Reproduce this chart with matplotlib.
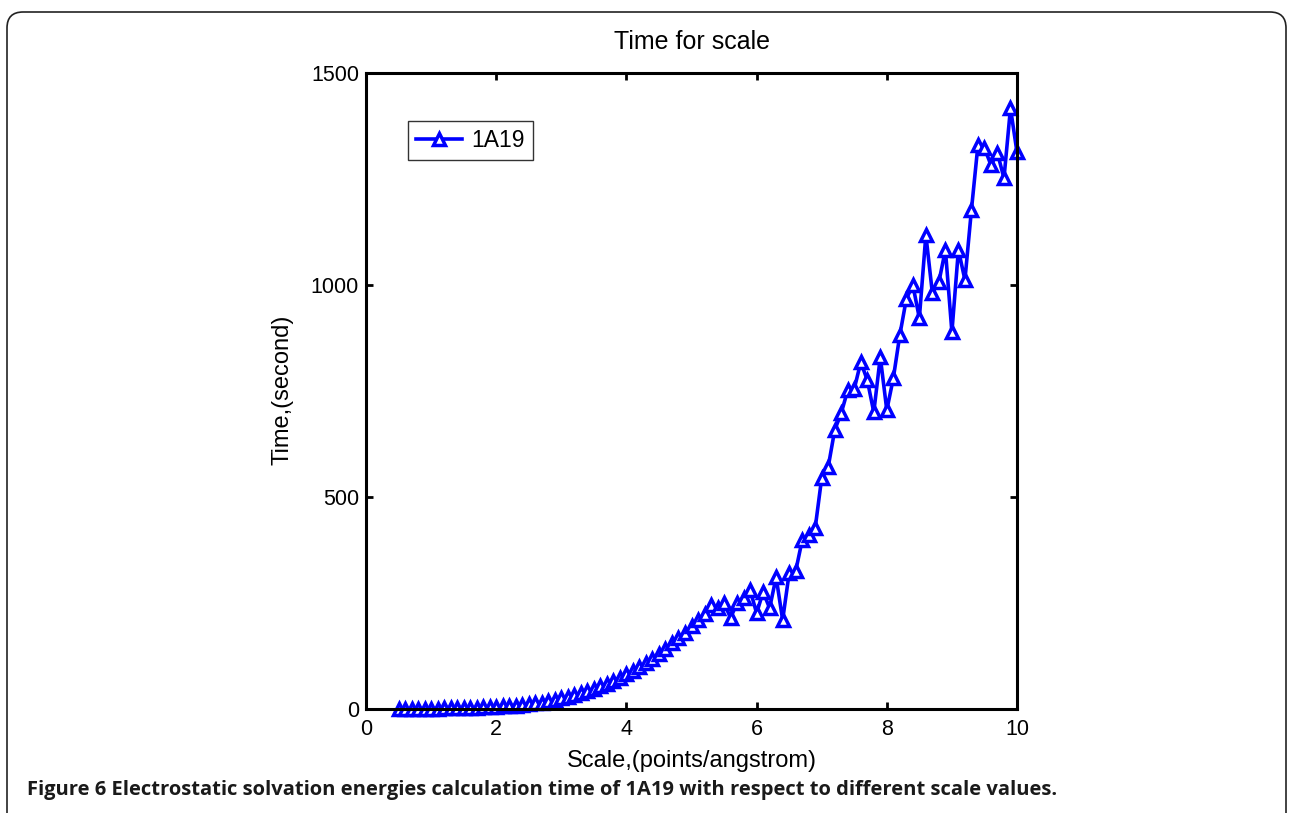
import numpy as np
import matplotlib
matplotlib.use("Agg")
import matplotlib.pyplot as plt
from matplotlib.patches import FancyBboxPatch
from matplotlib.transforms import IdentityTransform

# scale values (points/angstrom), 0.5 .. 10.0 step 0.1
scale = np.round(np.arange(5, 101) / 10.0, 1)

# calculation time (seconds)
time_sec = [
    1, 1, 1, 1, 1, 1, 1, 2, 2, 2,            # 0.5 - 1.4
    2, 3, 3, 4, 4, 5, 6, 7, 8, 9,            # 1.5 - 2.4
    11, 13, 15, 18, 21, 25, 28, 32, 37, 42,  # 2.5 - 3.4
    48, 54, 60, 67, 74, 82, 90, 98, 108, 118,  # 3.5 - 4.4
    130, 142, 155, 168, 180, 195, 210, 225, 245, 238,  # 4.5 - 5.4
    250, 215, 250, 262, 281, 226, 276, 238, 311, 210,  # 5.5 - 6.4
    320, 325, 398, 410, 427, 545, 571, 658, 698, 752,  # 6.5 - 7.4
    755, 818, 776, 700, 830, 705, 780, 882, 967, 1000,  # 7.5 - 8.4
    922, 1118, 981, 1007, 1083, 889, 1083, 1012, 1177, 1330,  # 8.5 - 9.4
    1323, 1283, 1311, 1252, 1417, 1313,  # 9.5 - 10.0
]

xticks = [0, 2, 4, 6, 8, 10]
yticks = [0, 500, 1000, 1500]

plt.rcParams['font.family'] = ['Liberation Sans', 'DejaVu Sans']

W, H = 1292, 813
fig = plt.figure(figsize=(W / 100, H / 100), dpi=100)
ax = fig.add_axes([366 / W, (H - 709) / H, 651 / W, 636 / H])

ax.plot(scale, time_sec, color='#0000ff', lw=2.6, marker='^', ms=8,
        mfc='white', mec='#0000ff', mew=2.5, label='1A19', clip_on=False)

ax.set_xlim(0, 10)
ax.set_ylim(0, 1500)
ax.set_xticks(xticks)
ax.set_yticks(yticks)
ax.tick_params(direction='in', length=5, width=2, labelsize=15.5, pad=5,
               top=True, right=True)
ax.tick_params(axis='x', pad=7)
for s in ax.spines.values():
    s.set_linewidth(2.2)

leg = ax.legend(loc='upper left', bbox_to_anchor=(0.0645, 0.925),
                borderaxespad=0, fancybox=False, fontsize=16.5, numpoints=1,
                handlelength=2.0, handletextpad=0.4, borderpad=0.35)
leg.get_frame().set_edgecolor('black')
leg.get_frame().set_linewidth(1.0)

fig.text(691.5 / W, 1 - 42 / H, 'Time for scale', ha='center', va='center', fontsize=18)
fig.text(691.5 / W, 1 - 761 / H, 'Scale,(points/angstrom)', ha='center', va='center', fontsize=17)
fig.text(283 / W, 1 - 390 / H, 'Time,(second)', ha='center', va='center',
         rotation=90, fontsize=17)

# caption under the chart
fig.text(27 / W, 1 - 790 / H,
         'Figure 6 Electrostatic solvation energies calculation time of 1A19 '
         'with respect to different scale values.',
         ha='left', va='center', fontsize=14.5, fontweight='bold',
         family=['Open Sans', 'DejaVu Sans'], color='#1a1a1a')

# rounded frame around the figure panel
frame = FancyBboxPatch((7, -30), 1279, H - 12 + 30,
                       boxstyle='round,pad=0,rounding_size=16',
                       transform=IdentityTransform(), fill=False,
                       edgecolor='#222222', lw=1.2)
fig.patches.append(frame)

fig.savefig('out.png', dpi=100)
